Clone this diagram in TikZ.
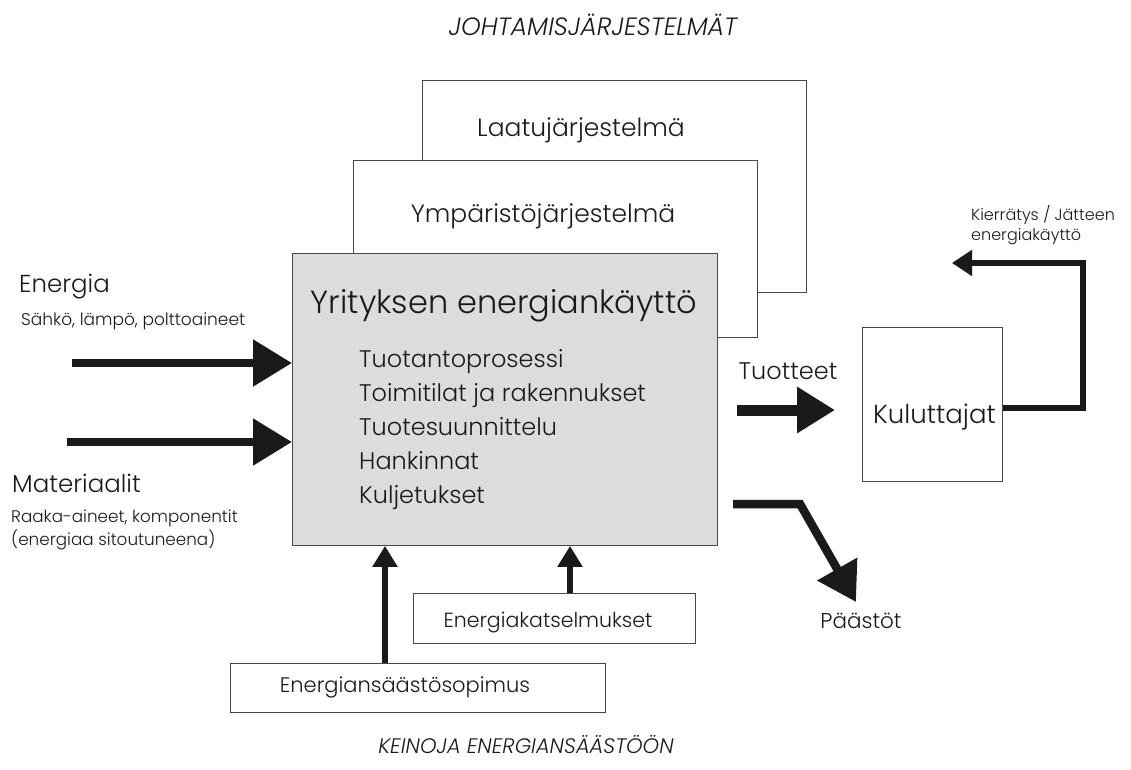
\documentclass[tikz,border=0pt]{standalone}
\usepackage{fontspec}
\setmainfont{Poppins Light}[ItalicFont={Poppins Light Italic}]
\usetikzlibrary{arrows.meta}
\definecolor{boxgray}{HTML}{DCDCDC}
\definecolor{ink}{HTML}{1A1A1A}
\begin{document}
\begin{tikzpicture}[x=1pt,y=-1pt,
  frame/.style={draw=ink!80, line width=0.9pt, fill=white, anchor=north west, inner sep=0pt},
  txt/.style={inner sep=0pt, text=ink, anchor=base},
  ltxt/.style={inner sep=0pt, text=ink, anchor=base west},
  bigarrow/.style={draw=ink, line width=8.5pt, -{Triangle[length=39pt,width=45pt]}},
  midarrow/.style={draw=ink, line width=5.5pt, -{Triangle[length=21pt,width=24pt]}},
]
\useasboundingbox (0,0) rectangle (1131,770);

% management systems
\node[txt, font=\fontsize{25}{29}\selectfont\itshape] (johto) at (593,36) {JOHTAMISJÄRJESTELMÄT};
\node[frame, minimum width=384pt, minimum height=212pt] (laatu) at (422,80) {};
\node[txt, font=\fontsize{25}{28}\selectfont] (laatut) at (581,137) {Laatujärjestelmä};
\node[frame, minimum width=404pt, minimum height=177pt] (ymp) at (353,160) {};
\node[txt, font=\fontsize{25}{28}\selectfont] (ympt) at (543,222) {Ympäristöjärjestelmä};

% main box
\node[frame, fill=boxgray, minimum width=425pt, minimum height=292pt] (main) at (292,253) {};
\node[txt, font=\fontsize{32}{36}\selectfont] (maint) at (504,313) {Yrityksen energiankäyttö};
\node[ltxt, font=\fontsize{24}{28}\selectfont] (l1) at (359,367) {Tuotantoprosessi};
\node[ltxt, font=\fontsize{24}{28}\selectfont] (l2) at (359,401) {Toimitilat ja rakennukset};
\node[ltxt, font=\fontsize{24}{28}\selectfont] (l3) at (359,435) {Tuotesuunnittelu};
\node[ltxt, font=\fontsize{24}{28}\selectfont] (l4) at (359,469) {Hankinnat};
\node[ltxt, font=\fontsize{24}{28}\selectfont] (l5) at (359,503) {Kuljetukset};

% inputs
\node[ltxt, font=\fontsize{24.5}{28}\selectfont] (energia) at (19,292) {Energia};
\node[ltxt, font=\fontsize{17}{20}\selectfont] (energiab) at (21,325) {Sähkö, lämpö, polttoaineet};
\node[ltxt, font=\fontsize{24.5}{28}\selectfont] (mat) at (12,492) {Materiaalit};
\node[ltxt, font=\fontsize{16.8}{20}\selectfont] (matb) at (11,522) {Raaka-aineet, komponentit};
\node[ltxt, font=\fontsize{16.8}{20}\selectfont] (matc) at (11,545) {(energiaa sitoutuneena)};
\coordinate (e0) at (72,363);
\coordinate (m0) at (67,442);
\draw[bigarrow] (e0) -- (e0 -| main.west);
\draw[bigarrow] (m0) -- (m0 -| main.west);

% products and consumers
\node[txt, font=\fontsize{24}{28}\selectfont] (tuot) at (788,379) {Tuotteet};
\node[frame, minimum width=140pt, minimum height=154pt] (kul) at (862,327) {};
\node[txt, font=\fontsize{26}{30}\selectfont] (kult) at (934.5,423) {Kuluttajat};
\coordinate (t0) at (737,410);
\draw[bigarrow, line width=11pt, -{Triangle[length=38pt,width=44pt]}] (t0) -- ++(98,0);

% recycling
\node[ltxt, font=\fontsize{16}{19}\selectfont] (kier1) at (971,220) {Kierrätys / Jätteen};
\node[ltxt, font=\fontsize{16}{19}\selectfont] (kier2) at (971,240) {energiakäyttö};
\coordinate (r1) at (1083,263);
\coordinate (r2) at (952,263);
\draw[midarrow, -{Triangle[length=20pt,width=25pt]}] (kul.east |- 0,408) -| (r1) -- (r2);

% emissions
\coordinate (p0) at (733,504);
\coordinate (p1) at (800,504);
\coordinate (p2) at (856,602);
\draw[bigarrow, -{Triangle[length=38pt,width=44pt]}] (p0) -- (p1) -- (p2);
\node[txt, font=\fontsize{21.5}{25}\selectfont] (paast) at (861,628) {Päästöt};

% means
\node[frame, minimum width=282pt, minimum height=50pt] (katsel) at (413,593) {};
\node[txt, font=\fontsize{20.5}{24}\selectfont] (katselt) at (548,627) {Energiakatselmukset};
\node[frame, minimum width=375pt, minimum height=49pt] (sop) at (230,663) {};
\node[txt, font=\fontsize{21}{24}\selectfont] (sopt) at (405,692) {Energiansäästösopimus};
\coordinate (b1) at (385,0);
\coordinate (b2) at (570,0);
\draw[midarrow] (b1 |- sop.north) -- (b1 |- main.south);
\draw[midarrow] (b2 |- katsel.north) -- (b2 |- main.south);
\node[txt, font=\fontsize{21}{25}\selectfont\itshape] (keino) at (526,753) {KEINOJA ENERGIANSÄÄSTÖÖN};
\end{tikzpicture}
\end{document}
